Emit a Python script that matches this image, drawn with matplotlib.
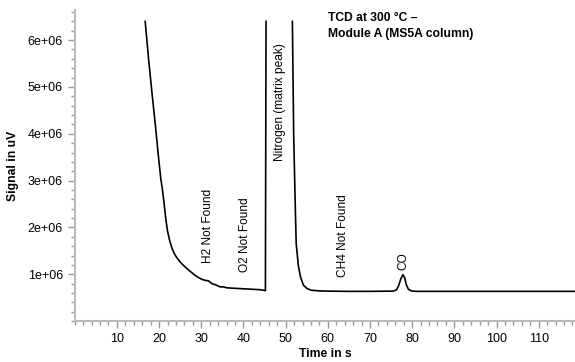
import numpy as np
import matplotlib
matplotlib.use("Agg")
import matplotlib.pyplot as plt
from matplotlib.ticker import MultipleLocator

plt.rcParams['font.family'] = ['Liberation Sans', 'DejaVu Sans']

# Chromatogram trace (time in s, signal in uV) - peaks off scale are clipped at 6.4e6
time_s = [16.7, 17.5, 18.3, 19.1, 19.8, 20.4, 20.8, 21.2, 21.6, 22.0, 22.5, 23.0, 23.6,
          24.3, 25.0, 26.0, 27.0, 28.2, 29.3, 30.2, 30.9, 31.7, 32.5, 33.5, 34.5, 35.3,
          36.1, 38.0, 40.0, 42.0, 44.0, 45.2, 45.35,
          np.nan,
          51.6, 51.9, 52.25, 52.5, 53.0, 53.5, 54.2, 55.0, 56.0, 58.0, 60.0, 65.0, 70.0,
          75.5, 76.3, 76.8, 77.3, 77.8, 78.2, 78.6, 79.1, 79.8, 81.0, 90.0, 100.0, 110.0, 119.0]
signal_uv = [6.40e6, 5.60e6, 4.88e6, 4.20e6, 3.55e6, 3.04e6, 2.80e6, 2.50e6, 2.17e6, 1.92e6,
             1.72e6, 1.57e6, 1.44e6, 1.34e6, 1.26e6, 1.17e6, 1.09e6, 1.00e6, 0.93e6, 0.89e6,
             0.87e6, 0.86e6, 0.80e6, 0.77e6, 0.73e6, 0.73e6, 0.71e6, 0.70e6, 0.69e6, 0.68e6,
             0.67e6, 0.65e6, 6.40e6,
             np.nan,
             6.40e6, 4.00e6, 2.57e6, 1.66e6, 1.19e6, 0.95e6, 0.77e6, 0.70e6, 0.66e6, 0.645e6,
             0.64e6, 0.635e6, 0.635e6,
             0.64e6, 0.67e6, 0.76e6, 0.90e6, 0.99e6, 0.93e6, 0.78e6, 0.68e6, 0.645e6, 0.635e6,
             0.635e6, 0.635e6, 0.635e6, 0.635e6]

# Peak labels: text, time, signal at bottom (or top for nitrogen)
peak_names = ["H2 Not Found", "O2 Not Found", "CH4 Not Found", "CO"]
peak_times = [31.6, 40.4, 63.6, 77.8]
peak_label_y = [1.23e6, 1.04e6, 0.94e6, 1.09e6]
matrix_name = "Nitrogen (matrix peak)"
matrix_time = 48.7
matrix_label_y = 5.94e6

title_text = "TCD at 300 \u00b0C \u2013\nModule A (MS5A column)"

fig = plt.figure(figsize=(5.75, 3.62), dpi=100)
ax = fig.add_axes([0.130, 0.113, 0.870, 0.859])

ax.plot(time_s, signal_uv, color='black', linewidth=1.2)

for name, t, y in zip(peak_names, peak_times, peak_label_y):
    ax.text(t, y, name, rotation=90, ha='center', va='bottom', fontsize=8.6)
ax.text(matrix_time, matrix_label_y, matrix_name, rotation=90, ha='center', va='top', fontsize=8.6)

ax.text(0.506, 0.995, title_text, transform=ax.transAxes, ha='left', va='top',
        fontsize=8.7, fontweight='bold', linespacing=1.45)

# Axes limits and ticks
ax.set_xlim(0, 118.6)
ax.set_ylim(0, 6.64e6)
ax.set_xticks([10, 20, 30, 40, 50, 60, 70, 80, 90, 100, 110])
ax.xaxis.set_minor_locator(MultipleLocator(2))
ax.set_yticks([1e6, 2e6, 3e6, 4e6, 5e6, 6e6])
ax.set_yticklabels(["1e+06", "2e+06", "3e+06", "4e+06", "5e+06", "6e+06"])
ax.yaxis.set_minor_locator(MultipleLocator(0.2e6))
ax.tick_params(which='both', direction='out', colors='#999999', labelcolor='black', labelsize=9)
ax.tick_params(which='major', length=5, width=1)
ax.tick_params(which='minor', length=3, width=1)

for side in ['top', 'right']:
    ax.spines[side].set_visible(False)
for side in ['left', 'bottom']:
    ax.spines[side].set_color('#bbbbbb')
    ax.spines[side].set_linewidth(1.5)

ax.set_xlabel("Time in s", fontsize=8.7, fontweight='bold', labelpad=2)
ax.set_ylabel("Signal in uV", fontsize=8.7, fontweight='bold', labelpad=6)

fig.savefig("out.png", dpi=100)
